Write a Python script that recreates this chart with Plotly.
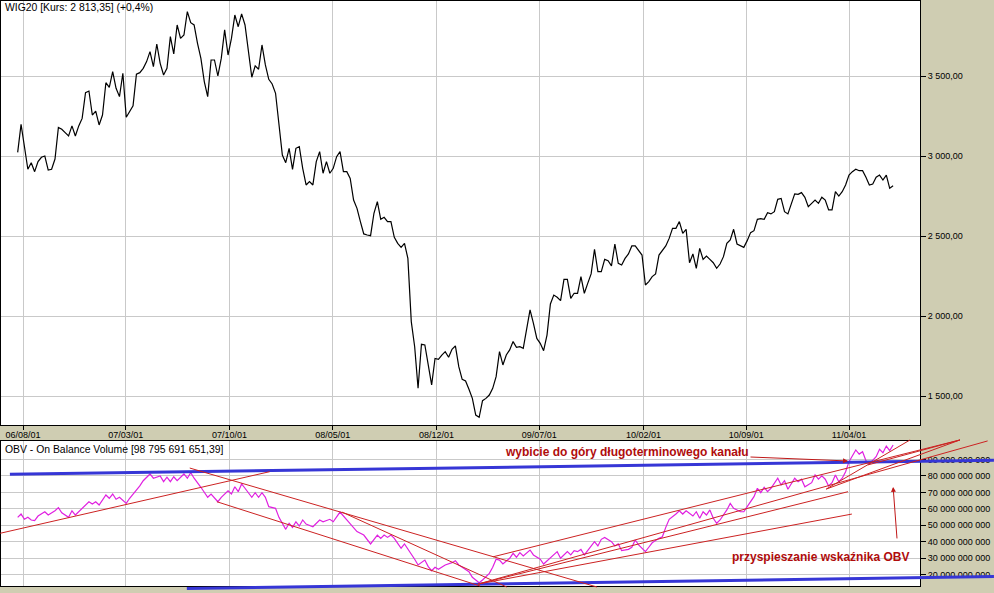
import pandas as pd
import plotly.graph_objects as go

W, H = 994, 593

# ---------------- data ----------------
week_start = "2006-07-21"

wig20_close = [
    3023, 3198, 3058, 2917, 2958, 2902, 2965, 2992, 3000, 2912, 2917, 2981, 3179, 3167, 3146, 3125, 3188, 3125, 3188, 3235,
    3396, 3406, 3256, 3281, 3194, 3256, 3458, 3429, 3527, 3423, 3371, 3517, 3242, 3277, 3313, 3512, 3521, 3548, 3590, 3652,
    3558, 3700, 3579, 3506, 3548, 3746, 3638, 3819, 3735, 3756, 3902, 3833, 3819, 3704, 3610, 3465, 3371, 3600, 3600, 3500,
    3610, 3788, 3631, 3735, 3881, 3808,
    3888, 3819, 3663, 3492, 3563, 3542, 3694, 3569, 3479, 3450, 3392, 3194, 3006, 2958, 3048, 2917, 3048, 3058, 2923, 2819,
    2840, 2819, 2965, 3027, 2892, 2965, 2892, 2923, 2996, 3027, 2902, 2902, 2860, 2725, 2673, 2590, 2513, 2506, 2502, 2642,
    2715, 2604, 2617, 2590, 2590, 2492, 2454, 2429, 2454, 2360, 1965, 1808, 1548, 1823, 1819, 1694, 1569, 1735, 1729, 1756,
    1777, 1742, 1792, 1813, 1683,
    1604, 1594, 1542, 1485, 1381, 1367, 1471, 1485, 1506, 1548, 1621, 1777, 1694, 1756, 1788, 1840, 1804, 1808, 1798, 1929,
    2038, 1954, 1860, 1829, 1783, 1881, 2075, 2131, 2117, 2096, 2229, 2229, 2110, 2142, 2142, 2246, 2142, 2204, 2263, 2417,
    2277, 2277, 2354, 2346, 2313, 2450, 2329, 2319, 2360, 2388, 2438, 2438, 2408, 2381, 2194, 2215, 2246, 2263, 2381, 2408,
    2438, 2485, 2548, 2548, 2590, 2517, 2542,
    2333, 2388, 2298, 2423, 2354, 2375, 2354, 2333, 2298, 2325, 2371, 2454, 2475, 2542, 2450, 2438, 2429, 2471, 2521, 2533,
    2604, 2608, 2604, 2646, 2638, 2652, 2729, 2735, 2652, 2638, 2704, 2763, 2760, 2771, 2742, 2683, 2704, 2725, 2704, 2742,
    2725, 2663, 2663, 2777, 2750, 2777, 2819, 2881, 2902, 2917, 2908, 2908, 2867, 2819, 2825, 2867, 2881, 2850, 2881, 2798,
    2813.35,
]

obv_week = [
    0, 1, 2, 3, 4, 5, 6, 8, 9, 11, 12, 13, 15, 16, 17, 19, 21, 22, 23, 24, 26, 27, 28, 29, 30, 32, 33, 36, 37, 39,
    40, 42, 43, 44, 45, 46, 47, 49, 50, 51, 52, 54, 55, 56, 57, 59, 60, 62, 63, 64, 65, 66, 67, 69, 70, 71, 72, 73, 74, 76,
    77, 78, 79, 80, 81, 82, 83, 84, 85, 87, 88, 89, 90, 92, 93, 94, 95,
    97, 98, 99, 100, 102, 103, 104, 106, 107, 108, 109, 110, 111, 112, 113, 114, 116, 117, 118, 120, 121, 122, 123, 124,
    126, 127, 128, 129, 130, 131, 133, 134, 136, 137, 139, 140, 141, 142, 143, 145, 146, 147, 148, 149, 150, 151, 152, 154,
    155, 157, 158, 159, 160, 161, 162, 163, 164, 165, 166, 167, 169, 170, 171, 172, 173, 175, 176, 177, 178, 180, 181, 182,
    183, 185, 186, 187, 189,
    190, 191, 192, 194, 195, 196, 197, 199, 200, 201, 202, 203, 204, 205, 206, 207, 209, 210, 211, 213, 214, 215, 217, 218,
    219, 220, 221, 222, 223, 224, 225, 226, 227, 228, 229, 230, 231, 232, 234, 235, 236, 237, 238, 239, 240, 241, 242, 243,
    244, 245, 246, 247, 248, 249, 250, 251, 253, 254, 255, 256, 257, 258,
]

obv_bn = [
    54.8, 56.8, 53.6, 54.8, 53.2, 52.8, 55.6, 58.2, 56.2, 58.8, 60.7, 57.6, 54.8, 58.8, 56.2, 60.3, 64.3, 62.9, 64.3, 62.3,
    68.4, 66.4, 69.0, 65.8, 67.0, 63.3, 66.4, 73.9, 77.1, 81.2, 78.6, 80.0, 76.5, 79.2, 76.5, 79.5, 77.1, 81.2, 78.6, 82.0,
    78.6, 73.1, 69.8, 67.0, 69.0, 64.3, 67.0, 71.0, 69.0, 73.4, 70.4, 75.1, 72.5, 67.0, 69.8, 67.0, 69.8, 67.0, 61.3, 60.3,
    54.8, 51.5, 47.5, 51.2, 48.7, 52.1, 49.5, 53.2, 50.7, 49.1, 51.2, 53.2, 52.1, 53.6, 52.1, 54.8, 58.0,
    53.2, 50.7, 48.7, 46.1, 44.0, 41.4, 38.6, 44.0, 42.0, 44.0, 42.6, 44.0, 42.0, 39.0, 36.0, 38.6, 32.9, 29.3, 25.8, 28.8,
    24.8, 22.3, 24.4, 23.2, 25.8, 26.4, 27.2, 28.4, 25.8, 24.4, 21.7, 18.3, 15.0, 16.7, 20.7, 24.4, 29.3, 28.8, 26.4, 29.9,
    32.9, 30.5, 33.3, 31.3, 32.9, 34.9, 31.9, 29.3, 26.4, 29.9, 31.9, 33.9, 29.9, 31.9, 33.9, 31.9, 34.5, 33.9, 35.3, 31.9,
    37.4, 40.0, 37.4, 41.4, 42.6, 40.0, 37.4, 38.6, 34.5, 35.3, 36.6, 41.0, 38.0, 33.9, 36.6, 39.3, 42.0,
    43.0, 48.7, 53.6, 56.8, 58.8, 56.8, 58.8, 55.6, 58.2, 54.2, 58.2, 56.2, 59.3, 54.2, 51.2, 53.2, 59.3, 63.3, 60.3, 58.2,
    58.2, 61.3, 67.4, 72.5, 69.8, 73.1, 70.4, 72.5, 75.5, 78.6, 74.5, 77.1, 71.9, 75.5, 78.6, 76.5, 78.0, 73.4, 75.9, 80.6,
    78.0, 80.0, 78.0, 73.9, 75.9, 80.6, 76.5, 78.6, 82.6, 88.7, 92.1, 95.8, 93.3, 94.7, 89.3, 87.3, 91.7, 96.2, 94.1, 98.2,
    95.4, 98.8,
]

tick_dates = ["2006-08-01", "2007-03-01", "2007-10-01", "2008-05-01", "2008-12-01",
              "2009-07-01", "2010-02-01", "2010-09-01", "2011-04-01"]
tick_text = ["06/08/01", "07/03/01", "07/10/01", "08/05/01", "08/12/01",
             "09/07/01", "10/02/01", "10/09/01", "11/04/01"]
price_ticks = [1500, 2000, 2500, 3000, 3500]
obv_ticks_bn = [20, 30, 40, 50, 60, 70, 80, 90]

# hand-drawn trend lines on the OBV panel: ((date, OBV bn), (date, OBV bn))
blue_lines = [
    (("2006-07-05", 81.0), ("2012-01-25", 89.5)),
    (("2007-07-05", 11.5), ("2012-01-25", 18.8)),
]
red_lines = [
    (("2006-06-15", 45.1), ("2007-12-23", 82.6)),
    (("2007-07-11", 84.8), ("2009-10-28", 12.4)),
    (("2008-05-20", 58.0), ("2009-04-25", 12.4)),
    (("2007-09-05", 64.3), ("2009-03-01", 13.0)),
    (("2009-03-28", 30.8), ("2011-11-16", 101.9)),
    (("2009-02-25", 14.2), ("2012-01-12", 101.3)),
    (("2009-02-25", 14.2), ("2011-03-30", 70.4)),
    (("2009-02-25", 14.2), ("2011-04-07", 56.8)),
    (("2011-02-13", 72.0), ("2011-08-05", 101.9)),
    (("2011-02-13", 72.0), ("2011-11-16", 101.9)),
    (("2011-05-10", 86.7), ("2011-11-16", 101.9)),
]

# ---------------- layout geometry ----------------
x_dom = [1 / W, 920 / W]
y1_dom = [1 - 425 / H, 1 - 1 / H]
y2_dom = [1 - 586 / H, 1 - 441 / H]
x3_dom = [0.0, 1.0]
y3_dom = [0.0, 1 - 430 / H]

x_range = [pd.Timestamp("2006-06-16 14:38"), pd.Timestamp("2011-08-25 11:30")]
y1_range = [1318.75, 3968.75]
y2_range = [13.01e9, 101.26e9]


def extend(r, d, nd):
    s = (r[1] - r[0]) / (d[1] - d[0])
    return [r[0] + (nd[0] - d[0]) * s, r[0] + (nd[1] - d[0]) * s]


xr_ms = [t.value / 1e6 for t in x_range]
x3_ms = extend(xr_ms, x_dom, x3_dom)
x3_range = [pd.Timestamp(v, unit="ms").strftime("%Y-%m-%d %H:%M:%S") for v in x3_ms]
y3_range = extend(y2_range, y2_dom, y3_dom)

price_dates = pd.date_range(week_start, periods=len(wig20_close), freq="7D")
obv_dates = pd.Timestamp(week_start) + pd.to_timedelta([7 * w for w in obv_week], unit="D")
obv_vals = [v * 1e9 for v in obv_bn]


def seg_xy(lines):
    xs, ys = [], []
    for (d0, v0), (d1, v1) in lines:
        xs += [d0, d1, None]
        ys += [v0 * 1e9, v1 * 1e9, None]
    return xs, ys


FONT = "Arial, Liberation Sans, sans-serif"
GRID = "#c9c9c9"
BEIGE = "#cfcdb2"

fig = go.Figure()
fig.add_trace(go.Scatter(x=price_dates, y=wig20_close, mode="lines",
                         line=dict(color="black", width=1.2), xaxis="x", yaxis="y"))
fig.add_trace(go.Scatter(x=obv_dates, y=obv_vals, mode="lines",
                         line=dict(color="#e020e0", width=1.2), xaxis="x2", yaxis="y2"))
bx, by = seg_xy(blue_lines)
fig.add_trace(go.Scatter(x=bx, y=by, mode="lines", line=dict(color="#3636d6", width=3),
                         xaxis="x3", yaxis="y3"))
rx, ry = seg_xy(red_lines)
fig.add_trace(go.Scatter(x=rx, y=ry, mode="lines", line=dict(color="#cc2222", width=1),
                         xaxis="x3", yaxis="y3"))

axis_common = dict(showline=True, mirror=True, linecolor="black", linewidth=1,
                   zeroline=False, gridcolor=GRID, gridwidth=1,
                   tickfont=dict(family=FONT, size=9, color="black"))

fig.update_layout(
    width=W, height=H,
    margin=dict(l=0, r=0, t=0, b=0),
    paper_bgcolor=BEIGE,
    plot_bgcolor="rgba(0,0,0,0)",
    showlegend=False,
    hovermode=False,
    separators=", ",
    font=dict(family=FONT, size=10, color="black"),
    xaxis=dict(type="date", domain=x_dom, anchor="y", range=x_range,
               tickmode="array", tickvals=tick_dates, ticktext=tick_text,
               ticks="outside", ticklen=4, tickcolor="black", showgrid=True,
               ticklabelstandoff=-3, **axis_common),
    yaxis=dict(domain=y1_dom, anchor="x", side="right", range=y1_range,
               tickmode="array", tickvals=price_ticks, tickformat=",.2f",
               ticks="outside", ticklen=5, tickcolor="black", showgrid=True, **axis_common),
    xaxis2=dict(type="date", domain=x_dom, anchor="y2", range=x_range,
                tickmode="array", tickvals=tick_dates, showticklabels=False,
                ticks="", showgrid=True, **axis_common),
    yaxis2=dict(domain=y2_dom, anchor="x2", side="right", range=y2_range,
                tickmode="array", tickvals=[v * 1e9 for v in obv_ticks_bn], tickformat=",.0f",
                ticks="outside", ticklen=5, tickcolor="black", showgrid=True, **axis_common),
    xaxis3=dict(type="date", domain=x3_dom, anchor="y3", range=x3_range, visible=False),
    yaxis3=dict(domain=y3_dom, anchor="x3", range=y3_range, visible=False),
    shapes=[
        dict(type="rect", xref="paper", yref="paper", x0=x_dom[0], x1=x_dom[1],
             y0=y1_dom[0], y1=y1_dom[1], fillcolor="white", line=dict(width=0), layer="below"),
        dict(type="rect", xref="paper", yref="paper", x0=x_dom[0], x1=x_dom[1],
             y0=y2_dom[0], y1=y2_dom[1], fillcolor="white", line=dict(width=0), layer="below"),
    ],
    annotations=[
        dict(text="WIG20 [Kurs: 2 813,35] (+0,4%)", xref="paper", yref="paper",
             x=3 / W, y=1 - 8 / H, xanchor="left", yanchor="middle", showarrow=False,
             font=dict(family=FONT, size=10.4, color="black")),
        dict(text="OBV - On Balance Volume [98 795 691 651,39]", xref="paper", yref="paper",
             x=3 / W, y=1 - 449 / H, xanchor="left", yanchor="middle", showarrow=False,
             font=dict(family=FONT, size=10.4, color="black")),
        dict(text="<b>wybicie do góry długoterminowego kanału</b>", xref="x2", yref="y2",
             x="2011-03-30", y=89.1e9, ax=-221, ay=-9, showarrow=True,
             arrowhead=2, arrowsize=1, arrowwidth=1, arrowcolor="#c01818",
             font=dict(family=FONT, size=12, color="#b00c0c")),
        dict(text="<b>przyspieszanie wskaźnika OBV</b>", xref="x2", yref="y2",
             x="2011-02-01", y=30.7e9, showarrow=False,
             font=dict(family=FONT, size=12, color="#b00c0c")),
        dict(text="", xref="x2", yref="y2", x="2011-07-01", y=73.3e9, ax=4, ay=53,
             showarrow=True, arrowhead=2, arrowsize=1, arrowwidth=1, arrowcolor="#c01818"),
    ],
)

fig.write_html("out.html", config={"displayModeBar": False},
               post_script="document.body.style.margin='0';document.body.style.overflow='hidden';")
